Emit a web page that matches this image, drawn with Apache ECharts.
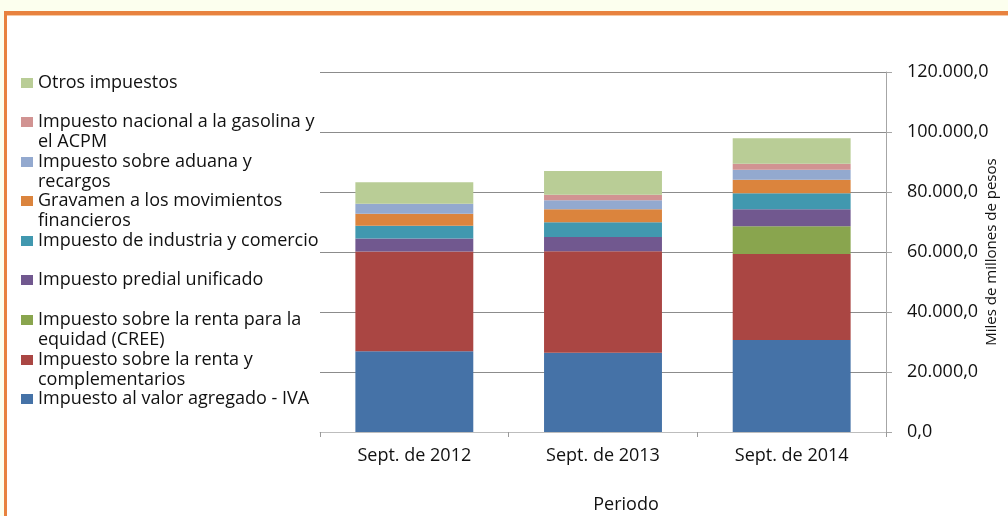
<!DOCTYPE html>
<html>
<head>
<meta charset="utf-8">
<script src="https://cdn.jsdelivr.net/npm/echarts@6/dist/echarts.min.js"></script>
<style>
  html, body { margin: 0; padding: 0; background: #fcffee; overflow: hidden; }
  #frame { position: absolute; left: 4px; top: 11px; width: 1200px; height: 700px;
           border-top: 4px solid #e8823f; border-left: 3px solid #e8823f; background: #fff;
           box-shadow: inset 0 1px 0 #f6c9a4; }
  #box { position: absolute; left: 0; top: 0; width: 1008px; height: 516px; }
</style>
</head>
<body>
<div id="frame"></div>
<div id="box"></div>
<script>
// periodos
let periodos = ['Sept. de 2012', 'Sept. de 2013', 'Sept. de 2014'];

// recaudo por impuesto (miles de millones de pesos), de abajo hacia arriba
let iva      = [26900, 26430, 30670];
let renta    = [33300, 33800, 28670];
let cree     = [0, 0, 9230];
let predial  = [4330, 4770, 5670];
let ica      = [4200, 4900, 5330];
let gmf      = [4000, 4330, 4530];
let aduana   = [3330, 3000, 3330];
let gasolina = [0, 1870, 2000];
let otros    = [7230, 7900, 8470];

let ejeY = [0, 20000, 40000, 60000, 80000, 100000, 120000];

let nombres = [
    'Impuesto al valor agregado - IVA',
    'Impuesto sobre la renta y complementarios',
    'Impuesto sobre la renta para la equidad (CREE)',
    'Impuesto predial unificado',
    'Impuesto de industria y comercio',
    'Gravamen a los movimientos financieros',
    'Impuesto sobre aduana y recargos',
    'Impuesto nacional a la gasolina y el ACPM',
    'Otros impuestos'
];
// texto de la leyenda con saltos de linea como en el original
let textoLeyenda = [
    'Impuesto al valor agregado - IVA',
    'Impuesto sobre la renta y\ncomplementarios',
    'Impuesto sobre la renta para la\nequidad (CREE)',
    'Impuesto predial unificado',
    'Impuesto de industria y comercio',
    'Gravamen a los movimientos\nfinancieros',
    'Impuesto sobre aduana y\nrecargos',
    'Impuesto nacional a la gasolina y\nel ACPM',
    'Otros impuestos'
];
let valores = [iva, renta, cree, predial, ica, gmf, aduana, gasolina, otros];
let colores = ['#4572a7', '#aa4643', '#89a54e', '#71588f', '#4198af', '#db843d', '#93a9cf', '#d19392', '#b9cd96'];

// posicion vertical del cuadrito de cada entrada
let topIcono = [394, 355, 315, 275, 236, 196, 157, 117, 78];

let fuente = 'Open Sans';

function formato(v) {
    let s = v.toFixed(1).split('.');
    return s[0].replace(/\B(?=(\d{3})+(?!\d))/g, '.') + ',' + s[1];
}

let chart = echarts.init(document.getElementById('box'));

let series = nombres.map(function (n, i) {
    return {
        name: n,
        type: 'bar',
        stack: 'total',
        barWidth: '62.5%',
        data: valores[i],
        itemStyle: { color: colores[i] }
    };
});

// el texto va centrado con el cuadrito: con una linea vacia arriba
// la primera linea queda a la altura del cuadrito
let leyendas = nombres.map(function (n, i) {
    let dosLineas = textoLeyenda[i].indexOf('\n') >= 0;
    let texto = dosLineas ? '\n' + textoLeyenda[i] : textoLeyenda[i];
    return {
        left: 21,
        top: topIcono[i] - (dosLineas ? 25 : 5),
        padding: 0,
        orient: 'vertical',
        icon: 'rect',
        itemWidth: 12,
        itemHeight: 10,
        selectedMode: false,
        data: [n],
        formatter: function () { return texto; },
        textStyle: {
            fontFamily: fuente,
            fontSize: 18,
            color: '#111',
            lineHeight: 20
        }
    };
});

let option = {
    backgroundColor: 'transparent',
    animation: false,
    legend: leyendas,
    grid: { left: 320, right: 122, top: 72, bottom: 84, outerBoundsMode: 'none', containLabel: false },
    xAxis: {
        type: 'category',
        data: periodos,
        name: 'Periodo',
        nameLocation: 'middle',
        nameGap: 64,
        nameMoveOverlap: false,
        nameTextStyle: { fontFamily: fuente, fontSize: 18, color: '#111', padding: [0, 0, 0, 46] },
        axisLine: { lineStyle: { color: '#bdbdbd', width: 1 } },
        axisTick: { show: true, length: 5, lineStyle: { color: '#9a9a9a' } },
        axisLabel: { fontFamily: fuente, fontSize: 18, color: '#111', margin: 15 }
    },
    yAxis: {
        type: 'value',
        position: 'right',
        min: ejeY[0],
        max: ejeY[ejeY.length - 1],
        interval: 20000,
        name: 'Miles de millones de pesos',
        nameLocation: 'middle',
        nameRotate: 90,
        nameGap: 98,
        nameMoveOverlap: false,
        nameTextStyle: { fontFamily: fuente, fontSize: 15, color: '#111' },
        axisLine: { show: true, lineStyle: { color: '#a6a6a6', width: 1 } },
        axisTick: { show: true, length: 6, lineStyle: { color: '#a6a6a6' } },
        splitLine: { lineStyle: { color: '#8c8c8c', width: 1 } },
        axisLabel: {
            fontFamily: fuente, fontSize: 18, color: '#111', margin: 21,
            formatter: function (v) { return formato(v); }
        }
    },
    series: series
};

chart.setOption(option);
</script>
</body>
</html>
